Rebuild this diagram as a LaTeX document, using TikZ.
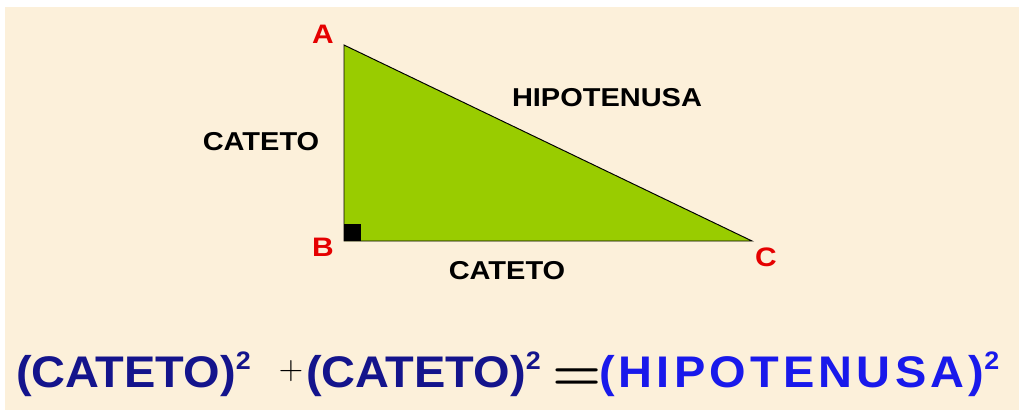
\documentclass[tikz,border=0pt]{standalone}
\usepackage{fontspec}
\usepackage{xcolor}
\usetikzlibrary{positioning}
\setmainfont{Liberation Sans}
\newfontfamily\labelfont{Liberation Sans}[FakeStretch=1.12]
\newfontfamily\eqfont{Liberation Sans}[FakeStretch=1.06]
\newfontfamily\hipfont{Liberation Sans}[FakeStretch=1.06,LetterSpace=9.5]
\newfontfamily\lmfont{Latin Modern Roman}
\definecolor{paper}{RGB}{252,240,218}
\definecolor{leaf}{RGB}{153,204,0}
\definecolor{navy}{RGB}{20,20,140}
\definecolor{brightblue}{RGB}{25,25,235}
\newcommand{\squared}{\raisebox{13pt}{\fontsize{18}{18}\selectfont 2}}

\begin{document}
\begin{tikzpicture}[
    x=0.025cm, y=-0.025cm,
    every node/.style={inner sep=0pt, outer sep=0pt},
    vertex/.style={text=red!90!black, font=\labelfont\bfseries\fontsize{19}{19}\selectfont},
    side/.style={text=black, font=\labelfont\bfseries\fontsize{18.4}{18.4}\selectfont},
    eqtext/.style={anchor=base west, font=\eqfont\bfseries\fontsize{31.5}{31.5}\selectfont},
    opsign/.style={text=black, font=\lmfont\fontsize{#1}{#1}\selectfont},
]
% paper background, thin white margin on the left and top
\useasboundingbox (0,0) rectangle (1021,410);
\fill[paper] (5,7) rectangle (1019,410);
% the right triangle and its right-angle mark
\coordinate (A) at (344,45);
\coordinate (B) at (344,241);
\coordinate (C) at (752,241);
\filldraw[fill=leaf, draw=black, line width=0.7pt] (A) -- (B) -- (C) -- cycle;
\fill[black] (B) rectangle ++(17,-17);
% vertex letters
\node[vertex] (labA) at (323,34) {A};
\node[vertex] (labB) at (323,247) {B};
\node[vertex] (labC) at (766,257) {C};
% side names
\node[side] (hyp) at (607,98) {HIPOTENUSA};
\node[side] (legAB) at (261,142) {CATETO};
\node[side] (legBC) at (507,271) {CATETO};
% Pythagoras in words
\node[eqtext, text=navy] (sq1) at (16,387.5) {(CATETO)\squared};
\node[opsign=24] (plus) at (291,371) {+};
\node[eqtext, text=navy] (sq2) at (306,387.5) {(CATETO)\squared};
\node[opsign=40] (equal) at (577,380) {\bfseries =};
\node[eqtext, text=brightblue, font=\hipfont\bfseries\fontsize{31.5}{31.5}\selectfont] (sq3) at (599,387.5) {(HIPOTENUSA)\squared};
\end{tikzpicture}
\end{document}
